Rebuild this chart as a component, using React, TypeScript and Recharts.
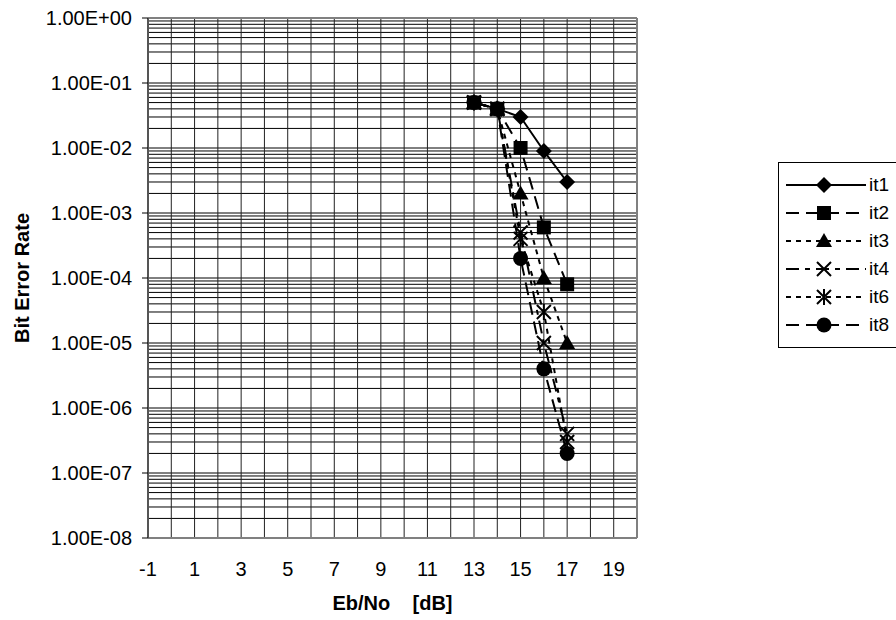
import React from 'react';
import { LineChart, Line, XAxis, YAxis, ReferenceLine, Legend } from 'recharts';

// Eb/No in dB
const ebNo = [13, 14, 15, 16, 17];

// Bit error rate per decoder iteration count
const it1 = [5e-2, 4e-2, 3e-2, 9e-3, 3e-3];
const it2 = [5e-2, 4e-2, 1e-2, 6e-4, 8e-5];
const it3 = [5e-2, 4e-2, 2e-3, 1e-4, 1e-5];
const it4 = [5e-2, 4e-2, 5e-4, 1e-5, 4e-7];
const it6 = [5e-2, 4e-2, 4e-4, 3e-5, 3e-7];
const it8 = [5e-2, 4e-2, 2e-4, 4e-6, 2e-7];

const xTicks = [-1, 1, 3, 5, 7, 9, 11, 13, 15, 17, 19];
const yTicks = [1e-8, 1e-7, 1e-6, 1e-5, 1e-4, 1e-3, 1e-2, 1e-1, 1];

// every integer Eb/No gets a vertical grid line
const xGrid = Array.from({ length: 22 }, (_, i) => i - 1);
// decades plus 2..9 subdivisions for the log grid
const yGrid: number[] = [];
for (let e = -8; e < 0; e++) {
  for (let k = 1; k <= 9; k++) yGrid.push(k * Math.pow(10, e));
}

type MarkerKind = 'diamond' | 'square' | 'triangle' | 'x' | 'star' | 'circle';

const series: { key: string; name: string; values: number[]; dash?: string; marker: MarkerKind }[] = [
  { key: 'it1', name: 'it1', values: it1, marker: 'diamond' },
  { key: 'it2', name: 'it2', values: it2, dash: '13 7', marker: 'square' },
  { key: 'it3', name: 'it3', values: it3, dash: '5 5', marker: 'triangle' },
  { key: 'it4', name: 'it4', values: it4, dash: '13 6 5 6', marker: 'x' },
  { key: 'it6', name: 'it6', values: it6, dash: '5 5', marker: 'star' },
  { key: 'it8', name: 'it8', values: it8, dash: '13 7', marker: 'circle' },
];

const data = ebNo.map((x, i) => {
  const row: Record<string, number> = { x };
  series.forEach((s) => {
    row[s.key] = s.values[i];
  });
  return row;
});

const FONT = '"Liberation Sans", Arial, sans-serif';

function formatSci(v: number): string {
  const e = Math.round(Math.log10(v));
  const m = v / Math.pow(10, e);
  const sign = e < 0 ? '-' : '+';
  const abs = Math.abs(e);
  return `${m.toFixed(2)}E${sign}${abs < 10 ? '0' : ''}${abs}`;
}

function Marker({ kind, cx, cy }: { kind: MarkerKind; cx: number; cy: number }) {
  const r = 7;
  switch (kind) {
    case 'diamond':
      return (
        <polygon
          points={`${cx},${cy - r - 1} ${cx + r + 1},${cy} ${cx},${cy + r + 1} ${cx - r - 1},${cy}`}
          fill="#000"
        />
      );
    case 'square':
      return <rect x={cx - r} y={cy - r} width={2 * r} height={2 * r} fill="#000" />;
    case 'triangle':
      return (
        <polygon
          points={`${cx},${cy - r - 1} ${cx + r + 1},${cy + r - 1} ${cx - r - 1},${cy + r - 1}`}
          fill="#000"
        />
      );
    case 'x':
      return (
        <path
          d={`M${cx - r},${cy - r}L${cx + r},${cy + r}M${cx + r},${cy - r}L${cx - r},${cy + r}`}
          stroke="#000"
          strokeWidth={2}
          fill="none"
        />
      );
    case 'star':
      return (
        <path
          d={`M${cx - r},${cy - r}L${cx + r},${cy + r}M${cx + r},${cy - r}L${cx - r},${cy + r}M${cx},${cy - r - 1}L${cx},${cy + r + 1}`}
          stroke="#000"
          strokeWidth={2}
          fill="none"
        />
      );
    case 'circle':
    default:
      return <circle cx={cx} cy={cy} r={7.5} fill="#000" />;
  }
}

function LegendBox() {
  return (
    <div
      style={{
        border: '1px solid #000',
        background: '#fff',
        padding: '8px 10px 8px 6px',
        fontFamily: FONT,
        fontSize: 19,
        color: '#000',
      }}
    >
      {series.map((s) => (
        <div key={s.key} style={{ display: 'flex', alignItems: 'center', height: 28 }}>
          <svg width={82} height={22} style={{ display: 'block' }}>
            <line
              x1={1}
              y1={11}
              x2={81}
              y2={11}
              stroke="#000"
              strokeWidth={2}
              strokeDasharray={s.dash}
            />
            <Marker kind={s.marker} cx={39} cy={11} />
          </svg>
          <span style={{ marginLeft: 2 }}>{s.name}</span>
        </div>
      ))}
    </div>
  );
}

export default function App() {
  return (
    <div style={{ position: 'absolute', left: 0, top: 0, background: '#fff' }}>
      <LineChart width={896} height={620} data={data} margin={{ top: 18, right: 259, bottom: 0, left: 0 }}>
        {yGrid.map((v) => (
          <ReferenceLine key={`h${v}`} y={v} stroke="#000" strokeWidth={1} ifOverflow="hidden" />
        ))}
        {xGrid.map((v) => (
          <ReferenceLine key={`v${v}`} x={v} stroke="#222" strokeWidth={1} />
        ))}
        <ReferenceLine y={1} stroke="#808080" strokeWidth={2} />
        <ReferenceLine x={20} stroke="#808080" strokeWidth={2} />
        <XAxis
          type="number"
          dataKey="x"
          domain={[-1, 20]}
          ticks={xTicks}
          interval={0}
          allowDataOverflow
          height={82}
          axisLine={{ stroke: '#808080', strokeWidth: 2 }}
          tickLine={false}
          tickSize={6}
          tickMargin={18}
          tick={{ fill: '#000', fontSize: 20, fontFamily: FONT }}
          label={(props: any) => {
            const vb = props.viewBox || {};
            const cx = vb.x + vb.width / 2;
            return (
              <text
                x={cx}
                y={vb.y + 72}
                textAnchor="middle"
                fontFamily={FONT}
                fontSize={20}
                fontWeight="bold"
                fill="#000"
                style={{ whiteSpace: 'pre' }}
              >
                {'Eb/No    [dB]'}
              </text>
            );
          }}
        />
        <YAxis
          scale="log"
          domain={[1e-8, 1]}
          ticks={yTicks}
          interval={0}
          allowDataOverflow
          width={148}
          axisLine={{ stroke: '#555', strokeWidth: 2 }}
          tickLine={{ stroke: '#000' }}
          tickSize={6}
          tickMargin={10}
          tickFormatter={formatSci}
          tick={{ fill: '#000', fontSize: 20, fontFamily: FONT }}
          label={(props: any) => {
            const vb = props.viewBox || {};
            const cy = vb.y + vb.height / 2;
            const x = 22;
            return (
              <text
                x={x}
                y={cy}
                transform={`rotate(-90, ${x}, ${cy})`}
                textAnchor="middle"
                dominantBaseline="central"
                fontFamily={FONT}
                fontSize={20}
                fontWeight="bold"
                fill="#000"
              >
                Bit Error Rate
              </text>
            );
          }}
        />
        <Legend
          layout="vertical"
          align="center"
          verticalAlign="middle"
          content={() => <LegendBox />}
          wrapperStyle={{ left: 778, top: 162, width: 'auto' }}
        />
        {series.map((s) => (
          <Line
            key={s.key}
            dataKey={s.key}
            name={s.name}
            type="linear"
            stroke="#000"
            strokeWidth={2}
            strokeDasharray={s.dash}
            isAnimationActive={false}
            dot={(p: any) => <Marker key={`${s.key}-${p.index}`} kind={s.marker} cx={p.cx} cy={p.cy} />}
            activeDot={false}
          />
        ))}
      </LineChart>
    </div>
  );
}
